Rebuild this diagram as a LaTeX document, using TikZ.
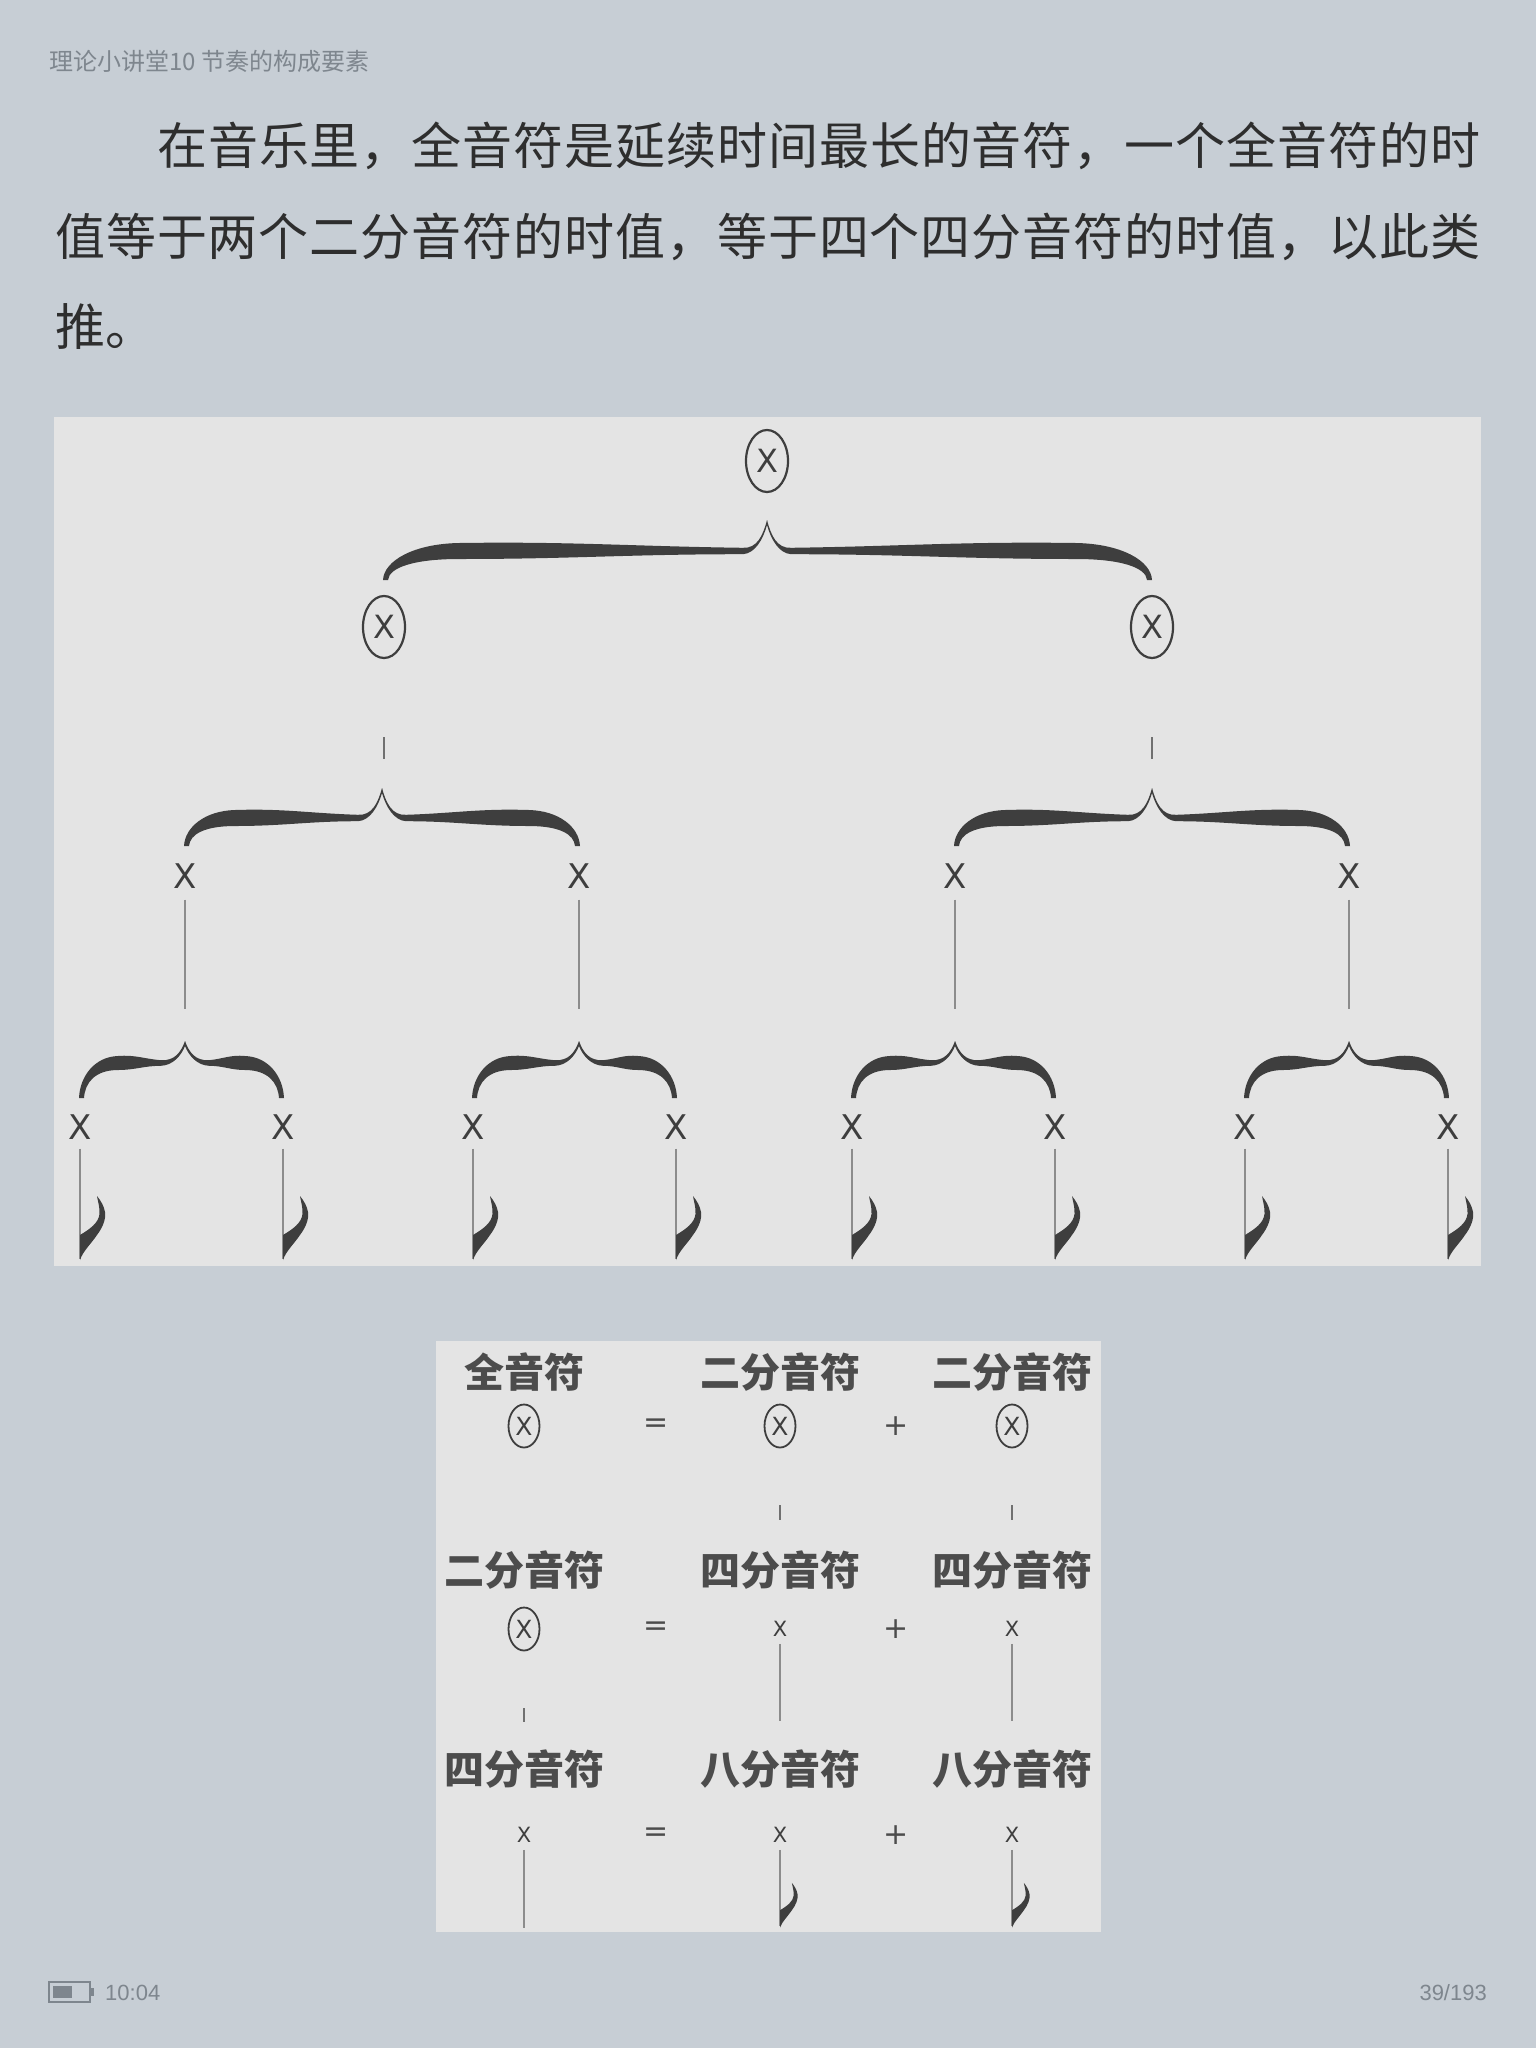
\documentclass[tikz,border=0pt]{standalone}
\usepackage{fontspec}
\usetikzlibrary{shapes.geometric}
\newfontfamily\cjk{Noto Sans CJK SC}
\newfontfamily\lat{DejaVu Sans}
\newfontfamily\latl{Liberation Sans}
\definecolor{pagebg}{HTML}{C7CED5}
\definecolor{panelbg}{HTML}{E4E4E4}
\definecolor{ink}{HTML}{3E3E3E}
\definecolor{stemc}{HTML}{8C8C8C}
\definecolor{headc}{HTML}{7E868E}
\definecolor{bodyc}{HTML}{2E2E2E}
\definecolor{labc}{HTML}{4C4C4C}
\def\mygobble#1{}
\def\myfirst#1{#1}
\def\spreadA#1#2{#1\ifx\relax#2\expandafter\mygobble\else\hfil\expandafter\myfirst\fi{\spreadA#2}}
% half brace: W B H T E, drawn from tip at origin towards +x
\newcommand\halfbrace[5]{%
\fill[ink] (0,0) .. controls (4,{0.5*#2}) and (10,{#2-0.15*#4}) .. (24,{#2-0.2*#4})
 .. controls ({24+0.4*(#1-#5-24)},{#2-0.3*#4}) and ({24+0.6*(#1-#5-24)},{#2-0.6*#4}) .. ({#1-#5},{#2-0.5*#4})
 .. controls ({#1-0.4*#5},{#2-0.45*#4}) and (#1,{0.5*(#2+#3)-5}) .. ({#1+1},#3)
 -- ({#1-4},#3) .. controls ({#1-5},{0.5*(#2+#3)+2}) and ({#1-0.4*#5},{#2+0.5*#4}) .. ({#1-#5},{#2+0.5*#4})
 .. controls ({24+0.6*(#1-#5-24)},{#2+0.5*#4}) and ({24+0.4*(#1-#5-24)},{#2+0.2*#4}) .. (24,{#2+0.2*#4})
 .. controls (12,{#2+0.15*#4}) and (4,{0.5*#2+4}) .. (0,5) -- cycle;}
% full brace: tipx tipy leftx rightx B H T E
\newcommand\fullbrace[8]{%
\begin{scope}[shift={(#1,#2)}]\pgfmathsetmacro\wr{#4-#1}\halfbrace{\wr}{#5}{#6}{#7}{#8}\end{scope}
\begin{scope}[shift={(#1,#2)},xscale=-1]\pgfmathsetmacro\wl{#1-#3}\halfbrace{\wl}{#5}{#6}{#7}{#8}\end{scope}}
% eighth-note flag at stem bottom
\newcommand\noteflag[3]{%
\begin{scope}[shift={(#1,#2)},scale=#3]
\fill[ink] (0,1) .. controls (3,-8) and (11,-15) .. (17,-24) .. controls (23,-32) and (26,-40) .. (25,-47)
 .. controls (24,-53) and (21,-58) .. (17,-63) .. controls (18,-57) and (20,-51) .. (19.5,-45)
 .. controls (18.5,-36) and (10,-30) .. (0,-24) -- cycle;
\end{scope}}
\tikzset{
 cx/.style={ellipse, draw=ink, line width=2.2pt, minimum width=42pt, minimum height=62pt, inner sep=0pt, text=ink, font=\lat\fontsize{32}{32}\selectfont},
 cxs/.style={ellipse, draw=ink, line width=1.8pt, minimum width=31pt, minimum height=43pt, inner sep=0pt, text=ink, font=\lat\fontsize{25}{25}\selectfont},
 xn/.style={inner sep=0pt, text=ink, font=\lat\fontsize{34}{34}\selectfont},
 xs/.style={inner sep=0pt, text=ink, font=\lat\fontsize{21}{21}\selectfont},
 op/.style={inner sep=0pt, text=labc, font=\lat\fontsize{30}{30}\selectfont},
 lab/.style={inner sep=0pt, text=labc, font=\cjk\bfseries\fontsize{40}{40}\selectfont},
 stem/.style={draw=stemc, line width=1.8pt},
 tick/.style={draw=stemc!80!black, line width=1.8pt},
 bodytext/.style={anchor=west, inner sep=0pt, text=bodyc, font=\cjk\fontsize{50}{60}\selectfont},
 status/.style={inner sep=0pt, text=headc, font=\latl\fontsize{22}{22}\selectfont}
}
\begin{document}
\begin{tikzpicture}[x=1pt,y=-1pt]
\fill[pagebg] (0,0) rectangle (1536,2048);
\useasboundingbox (0,0) rectangle (1536,2048);
% header
\node[anchor=west, inner sep=0pt, text=headc, font=\cjk\fontsize{24}{24}\selectfont] (head) at (49,61) {理论小讲堂10 节奏的构成要素};
% body text
\node[bodytext] (l1) at (157,146) {\hbox to 1323pt{\spreadA 在音乐里，全音符是延续时间最长的音符，一个全音符的时\relax}};
\node[bodytext] (l2) at (55,237) {\hbox to 1425pt{\spreadA 值等于两个二分音符的时值，等于四个四分音符的时值，以此类\relax}};
\node[bodytext] (l3) at (55,327) {推。};
% tree panel
\fill[panelbg] (54,417) rectangle (1481,1266);
\node[cx] (w) at (767,461) {X};
\fullbrace{767}{520}{384}{1151}{31}{60}{16}{75}
\node[cx] (h1) at (384,627) {X};
\node[cx] (h2) at (1152,627) {X};
\draw[tick] (h1.south) ++(0,78) -- ++(0,22);
\draw[tick] (h2.south) ++(0,78) -- ++(0,22);
\fullbrace{382}{788}{185}{579}{30}{58}{16}{50}
\fullbrace{1152}{788}{955}{1349}{30}{58}{16}{50}
\foreach \n/\xx in {q1/185,q2/579,q3/955,q4/1349}{
 \node[xn] (\n) at (\xx,876) {X};
 \draw[stem] (\n.south) ++(0,11) -- ++(0,109);
}
\fullbrace{185}{1041}{80}{283}{22}{57}{14}{38}
\fullbrace{579}{1041}{473}{676}{22}{57}{14}{38}
\fullbrace{955}{1041}{852}{1055}{22}{57}{14}{38}
\fullbrace{1349}{1041}{1245}{1448}{22}{57}{14}{38}
\foreach \n/\xx in {e1/80,e2/283,e3/473,e4/676,e5/852,e6/1055,e7/1245,e8/1448}{
 \node[xn] (\n) at (\xx,1127) {X};
 \draw[stem] (\n.south) ++(0,9) coordinate (\n top) -- ++(0,110) coordinate (\n bot);
 \noteflag{\xx}{1259}{1}
}
% table panel
\fill[panelbg] (436,1341) rectangle (1101,1932);
% row 1
\node[lab] (r1a) at (524,1372) {全音符};
\node[lab] (r1b) at (780,1372) {二分音符};
\node[lab] (r1c) at (1012,1372) {二分音符};
\node[cxs] (s1a) at (524,1426) {X};
\node[op] (eq1) at (656,1426) {=};
\node[cxs] (s1b) at (780,1426) {X};
\node[op] (pl1) at (896,1426) {+};
\node[cxs] (s1c) at (1012,1426) {X};
\draw[tick] (s1b.south) ++(0,57) -- ++(0,15);
\draw[tick] (s1c.south) ++(0,57) -- ++(0,15);
% row 2
\node[lab] (r2a) at (524,1570) {二分音符};
\node[lab] (r2b) at (780,1570) {四分音符};
\node[lab] (r2c) at (1012,1570) {四分音符};
\node[cxs] (s2a) at (524,1629) {X};
\node[op] (eq2) at (656,1629) {=};
\node[xs] (s2b) at (780,1629) {X};
\node[op] (pl2) at (896,1629) {+};
\node[xs] (s2c) at (1012,1629) {X};
\draw[stem] (s2b.south) ++(0,7) -- ++(0,77);
\draw[stem] (s2c.south) ++(0,7) -- ++(0,77);
\draw[tick] (s2a.south) ++(0,57) -- ++(0,14);
% row 3
\node[lab] (r3a) at (524,1769) {四分音符};
\node[lab] (r3b) at (780,1769) {八分音符};
\node[lab] (r3c) at (1012,1769) {八分音符};
\node[xs] (s3a) at (524,1835) {X};
\node[op] (eq3) at (656,1835) {=};
\node[xs] (s3b) at (780,1835) {X};
\node[op] (pl3) at (896,1835) {+};
\node[xs] (s3c) at (1012,1835) {X};
\draw[stem] (s3a.south) ++(0,7) -- ++(0,78);
\draw[stem] (s3b.south) ++(0,7) -- ++(0,76);
\draw[stem] (s3c.south) ++(0,7) -- ++(0,76);
\noteflag{780}{1927}{0.7}
\noteflag{1012}{1927}{0.7}
% status bar
\draw[headc, line width=1.6pt] (49,1982) rectangle (90,2002);
\fill[headc] (91,1988) rectangle (94,1996);
\fill[headc] (53,1986) rectangle (72,1998);
\node[status, anchor=west] (clock) at (105,1993) {10:04};
\node[status, anchor=east] (page) at (1487,1993) {39/193};
\end{tikzpicture}
\end{document}
